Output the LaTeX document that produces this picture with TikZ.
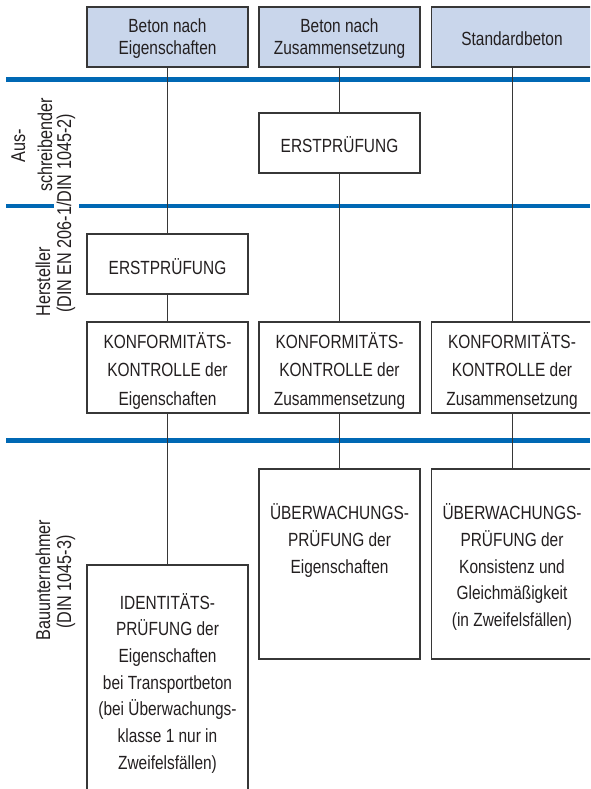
\documentclass[tikz,border=0pt]{standalone}
\usepackage{fontspec}
\setmainfont{Liberation Sans}[FakeStretch=0.81]
\definecolor{rulec}{RGB}{0,104,180}
\definecolor{headfill}{RGB}{201,214,235}
\definecolor{edgec}{RGB}{55,55,55}
\definecolor{inkc}{RGB}{35,31,32}
\newcommand\mlines[1]{\begin{tabular}[b]{@{}c@{}}#1\end{tabular}}
\tikzset{
  band/.style={rulec, line width=3.4pt},
  link/.style={edgec, line width=0.75pt},
  boxbase/.style={draw=edgec, line width=0.8pt, rectangle, inner sep=0pt, minimum width=120.75pt},
  headbox/.style={boxbase, fill=headfill, minimum height=45pt},
  stepbox/.style={boxbase, fill=white},
  txt/.style={anchor=base, inner sep=0pt, text=inkc},
  side/.style={anchor=base, inner sep=0pt, text=inkc, rotate=90, font=\fontsize{15pt}{18pt}\selectfont},
}
\begin{document}
\begin{tikzpicture}[x=0.75pt, y=-0.75pt]
\useasboundingbox (0,0) rectangle (590,789);
\clip (0,0) rectangle (590,789);
\fill[white] (0,0) rectangle (590,789);

% blue horizontal rules
\draw[band] (6,79.5) -- (590,79.5);
\draw[band] (6,206) -- (54,206);
\draw[band] (79,206) -- (590,206);
\draw[band] (6,440.5) -- (590,440.5);

% boxes
\node[headbox] (h1) at (167.5,37) {};
\node[headbox] (h2) at (339.5,37) {};
\node[headbox] (h3) at (512,37) {};
\node[stepbox, minimum height=45pt] (e2) at (339.5,143) {};
\node[stepbox, minimum height=45pt] (e1) at (167.5,264) {};
\node[stepbox, minimum height=68.25pt] (k1) at (167.5,367.5) {};
\node[stepbox, minimum height=68.25pt] (k2) at (339.5,367.5) {};
\node[stepbox, minimum height=68.25pt] (k3) at (512,367.5) {};
\node[stepbox, minimum height=142.5pt] (u2) at (339.5,564) {};
\node[stepbox, minimum height=142.5pt] (u3) at (512,564) {};
\node[stepbox, minimum height=183.75pt] (id1) at (167.5,687.5) {};

% connectors
\draw[link] (h1.south) -- (e1.north);
\draw[link] (e1.south) -- (k1.north);
\draw[link] (k1.south) -- (id1.north);
\draw[link] (h2.south) -- (e2.north);
\draw[link] (e2.south) -- (k2.north);
\draw[link] (k2.south) -- (u2.north);
\draw[link] (h3.south) -- (k3.north);
\draw[link] (k3.south) -- (u3.north);

% texts
\begin{scope}[every node/.append style={txt}]
\node[font=\fontsize{14.3pt}{16.3pt}\selectfont] (h1t) at (167.5,54) {\mlines{Beton nach\\Eigenschaften}};
\node[font=\fontsize{14.3pt}{16.3pt}\selectfont] (h2t) at (339.5,54.5) {\mlines{Beton nach\\Zusammensetzung}};
\node[font=\fontsize{14.3pt}{16.3pt}\selectfont] (h3t) at (512,45.7) {Standardbeton};
\node[font=\fontsize{14.3pt}{16.3pt}\selectfont] (e2t) at (339.5,152) {ERSTPRÜFUNG};
\node[font=\fontsize{14.3pt}{16.3pt}\selectfont] (e1t) at (167.5,274) {ERSTPRÜFUNG};
\node[font=\fontsize{14.3pt}{21.2pt}\selectfont] (k1t) at (167.5,405) {\mlines{KONFORMITÄTS-\\KONTROLLE der\\Eigenschaften}};
\node[font=\fontsize{14.3pt}{21.2pt}\selectfont] (k2t) at (339.5,405) {\mlines{KONFORMITÄTS-\\KONTROLLE der\\Zusammensetzung}};
\node[font=\fontsize{14.3pt}{21.2pt}\selectfont] (k3t) at (512,405) {\mlines{KONFORMITÄTS-\\KONTROLLE der\\Zusammensetzung}};
\node[font=\fontsize{14.3pt}{20.1pt}\selectfont] (u2t) at (339.5,573.3) {\mlines{ÜBERWACHUNGS-\\PRÜFUNG der\\Eigenschaften}};
\node[font=\fontsize{14.3pt}{20.1pt}\selectfont] (u3t) at (512,626.7) {\mlines{ÜBERWACHUNGS-\\PRÜFUNG der\\Konsistenz und\\Gleichmäßigkeit\\(in Zweifelsfällen)}};
\node[font=\fontsize{14.3pt}{20pt}\selectfont] (id1t) at (167.5,769.3) {\mlines{IDENTITÄTS-\\PRÜFUNG der\\Eigenschaften\\bei Transportbeton\\(bei Überwachungs-\\klasse 1 nur in\\Zweifelsfällen)}};
\end{scope}

% side labels
\node[side] (aus) at (25,146) {Aus-};
\node[side] (schr) at (52,145) {schreibender};
\node[side] (din1) at (71,213.5) {(DIN EN 206-1/DIN 1045-2)};
\node[side] (herst) at (50,282) {Hersteller};
\node[side] (bau) at (50,580) {Bauunternehmer};
\node[side] (din3) at (71,582) {(DIN 1045-3)};
\end{tikzpicture}
\end{document}
